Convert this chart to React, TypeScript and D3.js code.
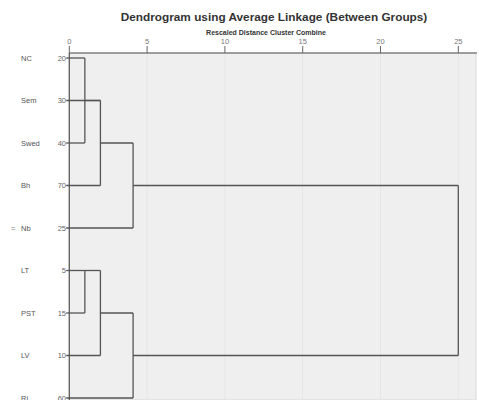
import React from "react";
import * as d3 from "d3";

const leafLabels = ["NC", "Sem", "Swed", "Bh", "Nb", "LT", "PST", "LV", "Ri"];
const caseNumbers = ["20", "30", "40", "70", "25", "5", "15", "10", "60"];
// merges: node ids 0-8 are leaves, 9+ are clusters in order
const mergeA = [0, 1, 10, 11, 5, 13, 14, 12];
const mergeB = [2, 9, 3, 4, 6, 7, 8, 15];
const mergeHeights = [1.0, 2.0, 2.0, 4.1, 1.0, 2.0, 4.1, 25];
const axisTicks = [0, 5, 10, 15, 20, 25];

export default function App() {
  const W = 479, H = 400;
  const x = d3.scaleLinear().domain([0, 25]).range([69.3, 458.3]);
  const y = d3.scaleLinear().domain([0, 8]).range([58, 398]);
  const n = leafLabels.length;
  const rows: number[] = leafLabels.map((_, i) => i);
  const heights: number[] = leafLabels.map(() => 0);
  const segs: { x1: number; y1: number; x2: number; y2: number }[] = [];
  mergeA.forEach((a, k) => {
    const b = mergeB[k];
    const h = mergeHeights[k];
    const ra = rows[a], rb = rows[b];
    const sa = a < n ? -0.2 : heights[a];
    const sb = b < n ? -0.2 : heights[b];
    segs.push({ x1: x(sa), y1: y(ra), x2: x(h), y2: y(ra) });
    segs.push({ x1: x(sb), y1: y(rb), x2: x(h), y2: y(rb) });
    segs.push({ x1: x(h), y1: y(Math.min(ra, rb)), x2: x(h), y2: y(Math.max(ra, rb)) });
    rows.push(Math.floor((ra + rb) / 2));
    heights.push(h);
  });
  const font = "'Liberation Sans', Arial, sans-serif";
  return (
    <svg width={W} height={H} style={{ position: "absolute", left: 0, top: 0, background: "#fff" }} fontFamily={font}>
      <rect x={x(0)} y={53} width={476 - x(0)} height={H - 53} fill="#efefef" stroke="#d8d8d8" />
      {axisTicks.map((t) => (
        <line key={"g" + t} x1={x(t)} x2={x(t)} y1={54} y2={H} stroke="#e6e6e6" strokeWidth={1} />
      ))}
      <text x={274} y={21} textAnchor="middle" fontSize={11.8} fontWeight="bold" fill="#333">
        Dendrogram using Average Linkage (Between Groups)
      </text>
      <text x={266} y={35} textAnchor="middle" fontSize={7} fontWeight="bold" fill="#333">
        Rescaled Distance Cluster Combine
      </text>
      <line x1={x(0)} x2={477} y1={53} y2={53} stroke="#555" strokeWidth={1.2} />
      {axisTicks.map((t) => (
        <g key={"t" + t}>
          <line x1={x(t)} x2={x(t)} y1={46} y2={53} stroke="#666" strokeWidth={1} />
          <text x={x(t)} y={44} textAnchor="middle" fontSize={7.5} fill="#777">{t}</text>
        </g>
      ))}
      <line x1={x(0)} x2={x(0)} y1={53} y2={H} stroke="#555" strokeWidth={1.2} />
      {leafLabels.map((l, i) => (
        <g key={l}>
          <text x={21} y={y(i) + 2.5} fontSize={7.5} fill="#555">{l}</text>
          <text x={66} y={y(i) + 2.5} fontSize={7.5} textAnchor="end" fill="#666">{caseNumbers[i]}</text>
        </g>
      ))}
      <text x={11} y={y(4) + 2.5} fontSize={7.5} fill="#777">=</text>
      {segs.map((s, i) => (
        <line key={i} x1={s.x1} y1={s.y1} x2={s.x2} y2={s.y2} stroke="#555" strokeWidth={1.3} />
      ))}
    </svg>
  );
}
